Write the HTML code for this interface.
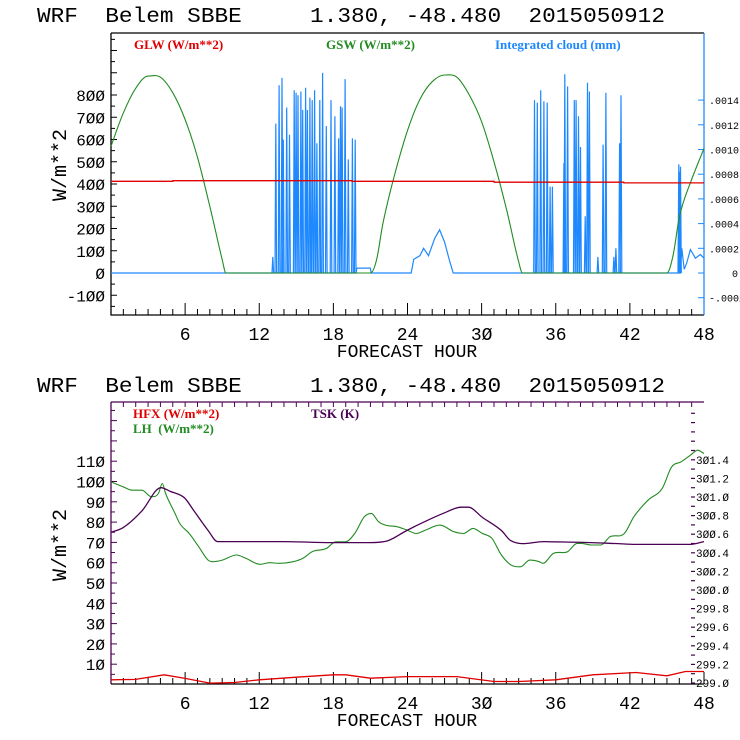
<!DOCTYPE html>
<html><head><meta charset="utf-8"><style>
html,body{margin:0;padding:0;background:#fff;width:740px;height:740px;overflow:hidden}
svg text{font-family:"Liberation Mono",monospace;white-space:pre}
.leg{font-family:"Liberation Serif",serif;font-weight:bold;font-size:13px}
</style></head><body>
<svg id="c" width="740" height="740" xmlns="http://www.w3.org/2000/svg" xml:space="preserve"></svg>
<script>
// ---- data ----
const hourTicks=[6,12,18,24,30,36,42,48];
const swLeftTicks=[-100,0,100,200,300,400,500,600,700,800];
const swRightTicks=[-0.0002,0,0.0002,0.0004,0.0006,0.0008,0.0010,0.0012,0.0014];
const swRightLabels=["-.0002","0",".0002",".0004",".0006",".0008",".0010",".0012",".0014"];
const gswHours=[0,1,2,3,4,5,6,7,8,9,9.3,21,21.5,22,23,24,25,26,27,28,29,30,31,32,33,33.3,45,45.5,46,47,48];
const gswVals=[570,720,830,885,880,810,690,520,300,60,0,0,60,220,450,640,780,860,890,880,800,680,500,290,50,0,0,80,250,420,560];
const glwHours=[0,5,5.01,19.5,19.51,31,31.01,41.5,41.51,48];
const glwVals=[412,412,415,415,412,412,408,408,405,405];
const spikeHours=[13.1,13.34,13.61,13.84,13.95,14.22,14.45,14.83,14.98,15.14,15.37,15.52,15.75,15.9,16.1,16.29,16.48,16.67,16.9,17.13,17.43,17.81,18.12,18.42,18.58,18.71,18.95,19.21,19.54,19.77,
34.28,34.51,34.78,35.04,35.31,35.54,35.73,36.66,36.73,36.96,37.5,37.65,37.84,38.0,38.38,38.57,38.72,39.41,39.83,40.06,40.71,40.87,41.17,41.28,45.96,46.05,46.1];
const spikeVals=[0.00013,0.00121,0.00152,0.00158,0.00108,0.00134,0.00112,0.00148,0.00146,0.00144,0.00147,0.00132,0.0015,0.00132,0.00142,0.0014,0.00148,0.00105,0.0014,0.00162,0.00119,0.0014,0.00127,0.00109,0.00135,0.00134,0.00157,0.00092,0.00109,0.00108,
0.0014,0.00138,0.00148,0.00139,0.00138,0.0007,0.0007,0.00089,0.00161,0.00151,0.0014,0.0014,0.00127,0.00102,0.00046,0.00154,0.00147,0.00013,0.00104,0.00146,0.00013,0.0002,0.00105,0.00144,0.00088,0.00082,0.00086];
const cloudHours=[0,19.85,19.9,21,21.05,24.3,24.5,25,25.3,25.7,26.2,26.6,27,27.4,27.7,46.1,46.2,46.4,46.6,46.9,47.3,47.7,48];
const cloudVals=[0,0,0.00004,0.00004,0,0,0.00011,0.00014,0.0002,0.00014,0.00028,0.00035,0.00025,0.0001,0,0,0.0002,0.00003,0.00008,0.00019,0.00012,0.00015,0.00012];
const lhLeftTicks=[10,20,30,40,50,60,70,80,90,100,110];
const tskTicks=[299.0,299.2,299.4,299.6,299.8,300.0,300.2,300.4,300.6,300.8,301.0,301.2,301.4];
const lhHours=[0,0.97,1.74,2.5,3.27,3.84,4.15,4.42,5.18,5.57,6.33,7.1,7.86,8.25,9.01,10.16,10.93,12.07,12.84,13.6,14.75,15.52,16.28,17.43,18.19,18.96,19.73,20.5,21.07,21.65,22.22,23.18,23.94,24.71,25.47,26.62,27.77,28.54,29.3,30.07,30.83,31.6,32.37,33.13,33.9,34.66,34.97,35.81,36.96,37.72,38.11,38.87,39.64,40.4,41.55,42.32,43.47,44.62,45.38,46.15,46.91,47.49,48];
const lhVals=[99.8,97.4,95.7,95.7,92.5,94.1,99.0,94.1,84.3,79.3,74.4,67.9,61.3,60.5,61.3,63.8,62.1,59.2,60.0,59.7,60.5,62.1,65.4,67.0,70.3,70.3,74.4,82.6,84.3,80.2,78.5,77.7,76.1,74.4,76.1,78.5,75.2,74.4,76.9,74.4,72.0,63.8,58.9,58.0,61.3,60.5,59.7,64.6,65.4,69.5,69.5,68.7,68.7,72.8,74.4,82.6,90.8,96.6,107.2,109.7,113.0,115.4,113.8];
const tskHours=[0,0.97,2.5,4.04,4.8,5.95,6.72,7.86,8.63,10.16,13.99,17.82,20.88,22.41,23.94,25.47,27.0,28.35,28.92,30.07,31.6,32.37,35.05,38.87,40.78,42.69,44.62,46.91,48];
const tskVals=[300.62,300.67,300.85,301.10,301.06,300.99,300.85,300.64,300.52,300.52,300.52,300.51,300.51,300.53,300.64,300.74,300.83,300.89,300.89,300.78,300.64,300.53,300.52,300.51,300.50,300.49,300.49,300.49,300.52];
const hfxHours=[0,2,4.3,6,8,10,12,15,18,19,21,24,28,31,33,36,39,42.5,45,46.5,48];
const hfxVals=[2.3,2.5,4.8,3.0,0.7,1.0,2.3,3.6,4.8,4.8,3.1,3.9,3.9,1.5,1.5,2.3,4.8,5.9,4.3,6.4,6.4];

const S=document.getElementById('c');const NS='http://www.w3.org/2000/svg';
function el(t,a,p){const e=document.createElementNS(NS,t);for(const k in a)e.setAttribute(k,a[k]);(p||S).appendChild(e);return e;}
function txt(s,a,p){const e=el('text',a,p);e.textContent=s;return e;}
const X0=111,X1=704;
const xS=h=>X0+(X1-X0)*h/48;
const ySW=v=>273-v*0.2225;
const yCL=v=>273-v/0.0002*24.7;
const yLH=v=>684.5-v*2.03;
const yTK=v=>683-(v-299)/0.2*18.6;
function path(hs,vs,ys){return hs.map((h,i)=>(i?'L':'M')+xS(h).toFixed(1)+' '+ys(vs[i]).toFixed(1)).join(' ');}
// monotone cubic Hermite in x (no loops / overshoot)
function smooth(hs,vs,ys){const n=hs.length,X=hs.map(xS),Y=vs.map(ys),sec=[],m=[];
 for(let i=0;i<n-1;i++)sec.push((Y[i+1]-Y[i])/(X[i+1]-X[i]));
 for(let i=0;i<n;i++){if(i==0)m.push(sec[0]);else if(i==n-1)m.push(sec[n-2]);else m.push(sec[i-1]*sec[i]<=0?0:(sec[i-1]+sec[i])/2);}
 let d='M'+X[0].toFixed(1)+' '+Y[0].toFixed(1);
 for(let i=0;i<n-1;i++){const dx=X[i+1]-X[i];
  d+=' C'+(X[i]+dx/3).toFixed(1)+' '+(Y[i]+m[i]*dx/3).toFixed(1)+' '+(X[i+1]-dx/3).toFixed(1)+' '+(Y[i+1]-m[i+1]*dx/3).toFixed(1)+' '+X[i+1].toFixed(1)+' '+Y[i+1].toFixed(1);}
 return d;}
const TITLE='WRF  Belem SBBE     1.380, -48.480  2015050912';

// ===== TOP PANEL =====
let g=el('g',{});

let t=txt(TITLE,{x:37,y:22,'font-size':21,textLength:628,lengthAdjust:'spacingAndGlyphs'},g);

el('path',{d:`M${X0} 33 L${X1} 33 M${X0} 33 L${X0} 315 L${X1} 315`,stroke:'#000',fill:'none','stroke-width':1.3},g);
el('line',{x1:X1,y1:33,x2:X1,y2:315,stroke:'#1e88ff','stroke-width':1.3},g);
for(let h=1;h<48;h++){const x=xS(h);el('line',{x1:x,y1:315,x2:x,y2:h%6?309:303,stroke:'#000'},g);}
hourTicks.forEach(h=>{let e=txt(String(h).replace(/0/g,'Ø'),{x:xS(h),y:340,'font-size':18,'text-anchor':'middle'},g);});
for(let v=-150;v<=1050;v+=50){const y=ySW(v);el('line',{x1:X0,y1:y,x2:X0+(v%100?4:6),y2:y,stroke:'#000'},g);}
swLeftTicks.forEach(v=>{let e=txt(String(v).replace(/0/g,'Ø'),{x:105,y:ySW(v)+6,'font-size':16,'text-anchor':'end'},g);});
swRightTicks.forEach((v,i)=>{const y=yCL(v);el('line',{x1:X1-6,y1:y,x2:X1,y2:y,stroke:'#1e88ff'},g);
 let e=txt(swRightLabels[i],{x:i==1?738:709,y:y+4,'font-size':10,'text-anchor':i==1?'end':'start'},g);});
t=txt('W/m**2',{x:0,y:0,'font-size':20,transform:'translate(66,165) rotate(-90)','text-anchor':'middle'},g);
t=txt('FORECAST HOUR',{x:407,y:357,'font-size':18,'text-anchor':'middle'},g);
t=txt('GLW (W/m**2)',{x:134,y:49,fill:'#e00000',class:'leg'},g);
t=txt('GSW (W/m**2)',{x:326,y:49,fill:'#228b22',class:'leg'},g);
t=txt('Integrated cloud (mm)',{x:495,y:49,fill:'#1e88ff',class:'leg'},g);
let d=path(cloudHours,cloudVals,yCL);
spikeHours.forEach((h,i)=>{d+=` M${(xS(h)-0.8).toFixed(1)} ${yCL(0)} L${xS(h).toFixed(1)} ${yCL(spikeVals[i]).toFixed(1)} L${(xS(h)+0.8).toFixed(1)} ${yCL(0)}`;});
let p=el('path',{d:d,stroke:'#1e88ff',fill:'none','stroke-width':1.2},g);
p=el('path',{d:smooth(gswHours,gswVals,ySW),stroke:'#228b22',fill:'none','stroke-width':1.1},g);
p=el('path',{d:path(glwHours,glwVals,ySW),stroke:'#e00000',fill:'none','stroke-width':1.3},g);

// ===== BOTTOM PANEL =====
g=el('g',{});

t=txt(TITLE,{x:37,y:392,'font-size':21,textLength:628,lengthAdjust:'spacingAndGlyphs'},g);

el('path',{d:`M${X0} 402 L${X1} 402`,stroke:'#4b0055',fill:'none','stroke-width':1.3},g);
el('path',{d:`M${X0} 402 L${X0} 684`,stroke:'#4b0055',fill:'none','stroke-width':1.3},g);
el('path',{d:`M${X0} 684 L${X1} 684`,stroke:'#000',fill:'none','stroke-width':1.3},g);
for(let h=1;h<48;h++){const x=xS(h);el('line',{x1:x,y1:684,x2:x,y2:h%6?678:672,stroke:'#000'},g);el('line',{x1:x,y1:402,x2:x,y2:407,stroke:'#4b0055'},g);}
el('line',{x1:X1,y1:684,x2:X1,y2:672,stroke:'#000'},g);
hourTicks.forEach(h=>{let e=txt(String(h).replace(/0/g,'Ø'),{x:xS(h),y:709,'font-size':18,'text-anchor':'middle'},g);});
for(let v=5;v<=135;v+=5){const y=yLH(v);if(y<404)break;el('line',{x1:X0,y1:y,x2:X0+(v%10?4:6),y2:y,stroke:'#4b0055'},g);}
lhLeftTicks.forEach(v=>{let e=txt(String(v).replace(/0/g,'Ø'),{x:105,y:yLH(v)+6,'font-size':16,'text-anchor':'end'},g);});
for(let v=299;v<=302.01;v+=0.1){const y=yTK(v);if(y<406)break;el('line',{x1:691,y1:y,x2:695,y2:y,stroke:'#4b0055','stroke-width':1.2},g);}
tskTicks.forEach(v=>{let e=txt(v.toFixed(1).replace(/0/g,'Ø'),{x:696,y:yTK(v)+4,'font-size':11},g);});
t=txt('W/m**2',{x:0,y:0,'font-size':20,transform:'translate(66,545) rotate(-90)','text-anchor':'middle'},g);
t=txt('FORECAST HOUR',{x:407,y:726,'font-size':18,'text-anchor':'middle'},g);
t=txt('HFX (W/m**2)',{x:133,y:418,fill:'#e00000',class:'leg'},g);
t=txt('LH  (W/m**2)',{x:133,y:433,fill:'#228b22',class:'leg'},g);
t=txt('TSK (K)',{x:311,y:418,fill:'#4b0055',class:'leg'},g);
p=el('path',{d:smooth(lhHours,lhVals,yLH),stroke:'#228b22',fill:'none','stroke-width':1.1},g);
p=el('path',{d:smooth(tskHours,tskVals,yTK),stroke:'#4b0055',fill:'none','stroke-width':1.3},g);
p=el('path',{d:path(hfxHours,hfxVals,yLH),stroke:'#e00000',fill:'none','stroke-width':1.3},g);
</script>
</body></html>
